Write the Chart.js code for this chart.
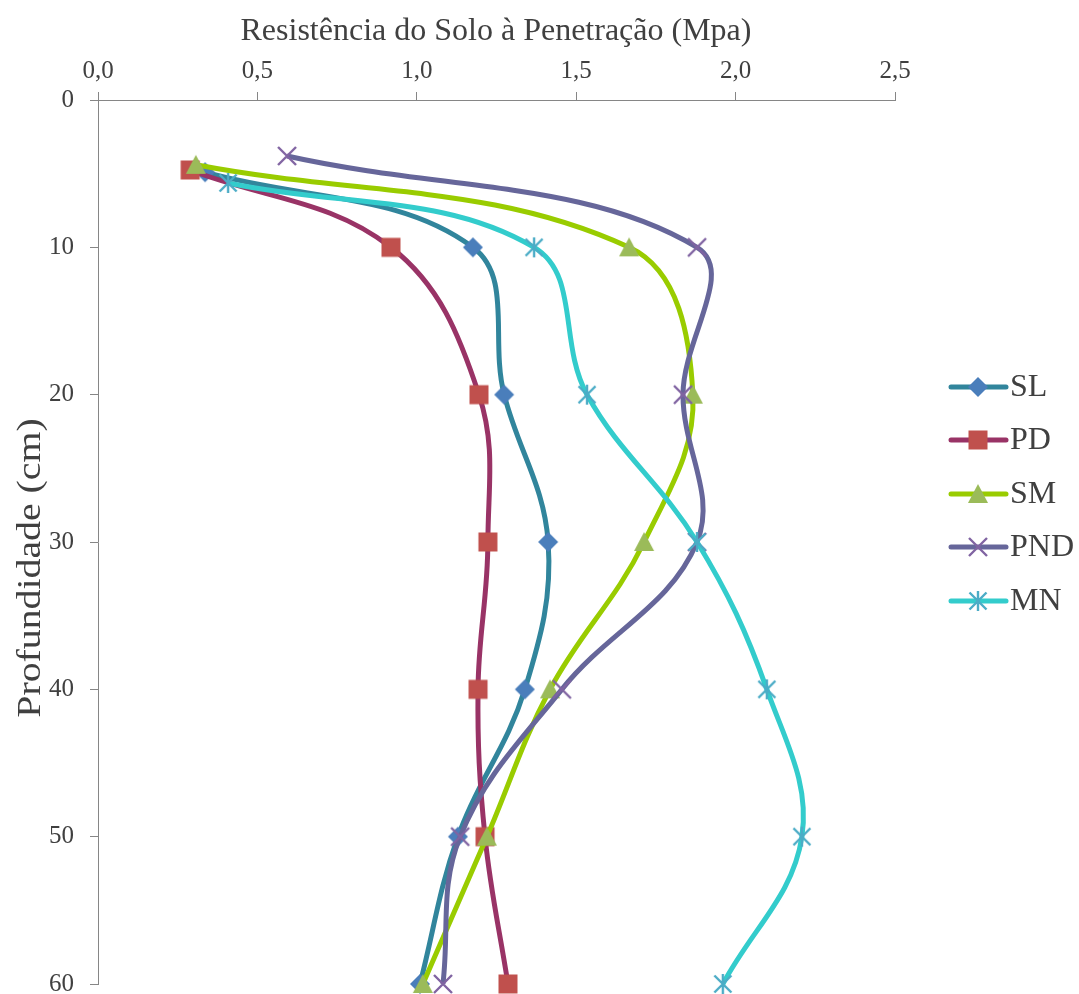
<!DOCTYPE html>
<html>
<head>
<meta charset="utf-8">
<script src="https://cdn.jsdelivr.net/npm/chart.js@4.4.1/dist/chart.umd.min.js"></script>
<style>
  html, body { margin: 0; padding: 0; background: #ffffff; }
  #wrap { width: 1079px; height: 994px; position: relative; }
</style>
</head>
<body>
<div id="wrap"><canvas id="c" width="1079" height="994"></canvas></div>
<script>
// Soil penetration resistance (MPa) by depth (cm) for each management system
const seriesNames = ['SL', 'PD', 'SM', 'PND', 'MN'];

const depthSL  = [4.9, 10, 20, 30, 40, 50, 60];
const resSL    = [0.336, 1.176, 1.274, 1.412, 1.339, 1.129, 1.010];

const depthPD  = [4.75, 10, 20, 30, 40, 50, 60];
const resPD    = [0.289, 0.919, 1.195, 1.223, 1.192, 1.214, 1.286];

const depthSM  = [4.4, 10, 20, 30, 40, 50, 60];
const resSM    = [0.307, 1.666, 1.866, 1.713, 1.418, 1.220, 1.019];

const depthPND = [3.8, 10, 20, 30, 40, 50, 60];
const resPND   = [0.593, 1.879, 1.835, 1.879, 1.455, 1.136, 1.082];

const depthMN  = [5.63, 10, 20, 30, 40, 50, 60];
const resMN    = [0.408, 1.368, 1.534, 1.879, 2.098, 2.208, 1.960];

const xTicks = [0, 0.5, 1.0, 1.5, 2.0, 2.5];
const yTicks = [0, 10, 20, 30, 40, 50, 60];

const lineColors   = ['#31859c', '#993366', '#99cc00', '#66669a', '#33cccc'];
const markerColors = ['#4a7ebb', '#c0504d', '#9bbb59', '#8064a2', '#4bacc6'];

const FONT = "'Liberation Serif', 'Times New Roman', serif";
const TEXT = '#404040';

// Marker images
function makeMarker(kind, color) {
  const c = document.createElement('canvas');
  const s = 22;
  c.width = s; c.height = s;
  const g = c.getContext('2d');
  const m = s / 2;
  g.fillStyle = color; g.strokeStyle = color;
  if (kind === 'diamond') {
    g.beginPath(); g.moveTo(m, m - 10); g.lineTo(m + 10, m); g.lineTo(m, m + 10); g.lineTo(m - 10, m); g.closePath(); g.fill();
  } else if (kind === 'square') {
    g.fillRect(m - 9.5, m - 9.5, 19, 19);
  } else if (kind === 'triangle') {
    g.beginPath(); g.moveTo(m, m - 10); g.lineTo(m + 10, m + 9); g.lineTo(m - 10, m + 9); g.closePath(); g.fill();
  } else if (kind === 'x') {
    g.lineWidth = 2.4; g.lineCap = 'butt';
    g.beginPath(); g.moveTo(m - 9, m - 9); g.lineTo(m + 9, m + 9); g.moveTo(m + 9, m - 9); g.lineTo(m - 9, m + 9); g.stroke();
  } else if (kind === 'star') {
    g.lineWidth = 2.4;
    g.beginPath();
    g.moveTo(m - 8.5, m - 8.5); g.lineTo(m + 8.5, m + 8.5);
    g.moveTo(m + 8.5, m - 8.5); g.lineTo(m - 8.5, m + 8.5);
    g.moveTo(m, m - 10); g.lineTo(m, m + 10);
    g.stroke();
  }
  return c;
}
const markerKinds = ['diamond', 'square', 'triangle', 'x', 'star'];
const markers = markerKinds.map((k, i) => makeMarker(k, markerColors[i]));

const depths = [depthSL, depthPD, depthSM, depthPND, depthMN];
const values = [resSL, resPD, resSM, resPND, resMN];

const datasets = seriesNames.map((name, i) => ({
  label: name,
  data: values[i].map((v, j) => ({ x: v, y: depths[i][j] })),
  showLine: true,
  borderColor: lineColors[i],
  borderWidth: 5,
  backgroundColor: markerColors[i],
  pointStyle: markers[i],
  pointRadius: 10,
  pointHoverRadius: 10,
  tension: 0.38,
  fill: false,
  order: seriesNames.length - i,
  clip: false
}));

// Right-side legend with line + marker swatches
const sideLegend = {
  id: 'sideLegend',
  afterDraw(chart) {
    const ctx = chart.ctx;
    ctx.save();
    const x0 = 951, x1 = 1006, mx = 978, tx = 1010;
    const ys = [387, 440, 494, 547, 601];
    ctx.font = '32px ' + FONT;
    ctx.textBaseline = 'middle';
    ctx.textAlign = 'left';
    seriesNames.forEach((name, i) => {
      const y = ys[i];
      ctx.strokeStyle = lineColors[i];
      ctx.lineWidth = 5;
      ctx.lineCap = 'round';
      ctx.beginPath(); ctx.moveTo(x0, y); ctx.lineTo(x1, y); ctx.stroke();
      const m = markers[i];
      ctx.drawImage(m, mx - m.width / 2, y - m.height / 2);
      ctx.fillStyle = TEXT;
      ctx.fillText(name, tx, y + 1);
    });
    ctx.restore();
  }
};

// Axis titles
const axisTitles = {
  id: 'axisTitles',
  afterDraw(chart) {
    const ctx = chart.ctx;
    ctx.save();
    ctx.fillStyle = TEXT;
    ctx.font = '32px ' + FONT;
    ctx.textAlign = 'center';
    ctx.textBaseline = 'alphabetic';
    ctx.fillText('Resistência do Solo à Penetração (Mpa)', 496, 40);
    ctx.translate(40, 568);
    ctx.rotate(-Math.PI / 2);
    ctx.scale(1.17, 1);
    ctx.font = '34px ' + FONT;
    ctx.fillText('Profundidade (cm)', 0, 0);
    ctx.restore();
  }
};

new Chart(document.getElementById('c'), {
  type: 'scatter',
  data: { datasets },
  options: {
    responsive: false,
    animation: false,
    devicePixelRatio: 1,
    layout: { autoPadding: false, padding: { left: 0, top: 0, right: 184, bottom: 10 } },
    plugins: { legend: { display: false }, tooltip: { enabled: false } },
    scales: {
      x: {
        type: 'linear',
        position: 'top',
        min: xTicks[0],
        max: xTicks[xTicks.length - 1],
        afterBuildTicks(s) { s.ticks = xTicks.map(v => ({ value: v })); },
        afterFit(s) { s.height = 100; s.paddingLeft = 0; s.paddingRight = 0; },
        ticks: {
          font: { family: FONT, size: 25 },
          color: TEXT,
          padding: 6,
          maxRotation: 0,
          callback: v => v.toFixed(1).replace('.', ',')
        },
        grid: { drawOnChartArea: false, drawTicks: true, tickLength: 8, color: '#868686', lineWidth: 1 },
        border: { color: '#868686', width: 1 }
      },
      y: {
        type: 'linear',
        position: 'left',
        reverse: true,
        min: yTicks[0],
        max: yTicks[yTicks.length - 1],
        afterBuildTicks(s) { s.ticks = yTicks.map(v => ({ value: v })); },
        afterFit(s) { s.width = 98; s.paddingTop = 0; s.paddingBottom = 0; },
        ticks: {
          font: { family: FONT, size: 25 },
          color: TEXT,
          padding: 16,
          callback: v => String(v)
        },
        grid: { drawOnChartArea: false, drawTicks: true, tickLength: 8, color: '#868686', lineWidth: 1 },
        border: { color: '#868686', width: 1 }
      }
    }
  },
  plugins: [sideLegend, axisTitles]
});
</script>
</body>
</html>
